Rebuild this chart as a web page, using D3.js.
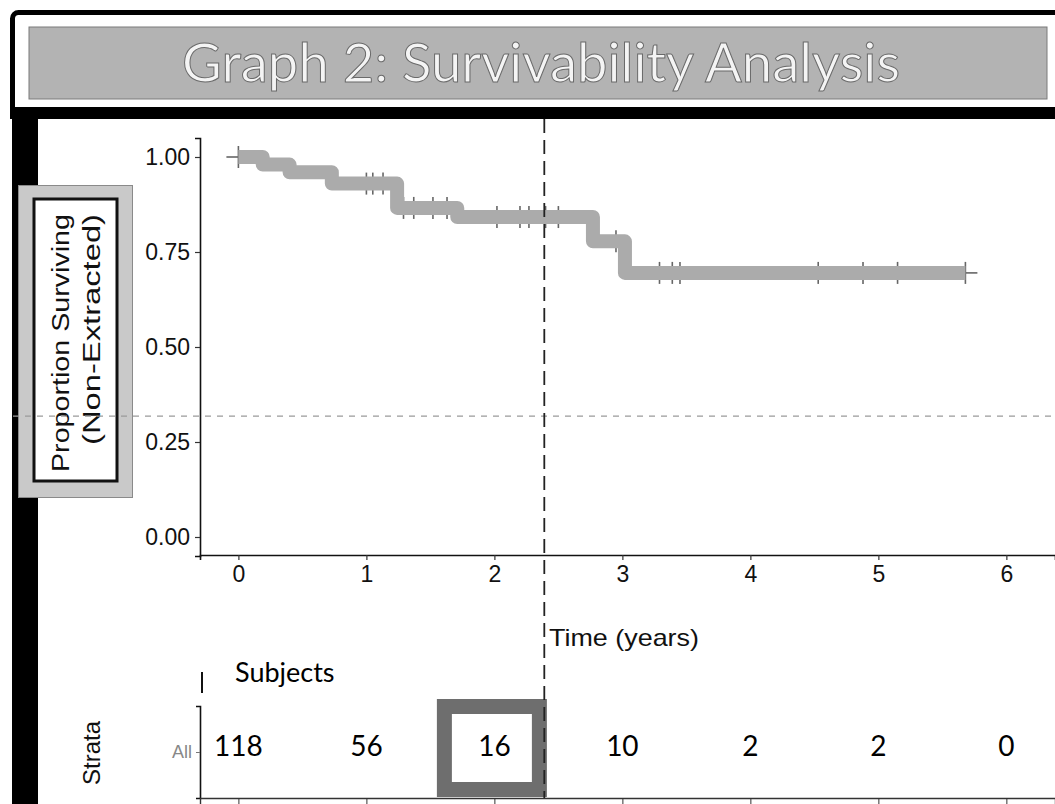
<!DOCTYPE html>
<html>
<head>
<meta charset="utf-8">
<script src="https://cdn.jsdelivr.net/npm/d3@7"></script>
<style>
  body { margin: 0; background: #fff; }
  svg { display: block; }
</style>
</head>
<body>
<div class="chart"></div>
<script>
// survival curve steps (years, proportion surviving)
const stepTimes = [0, 0.19, 0.40, 0.73, 1.24, 1.71, 2.77, 3.02];
const stepSurv = [1.00, 0.98, 0.96, 0.93, 0.866, 0.842, 0.778, 0.695];
const lastTime = 5.68;
const censorTimes = [0, 1.0, 1.05, 1.13, 1.29, 1.37, 1.52, 1.63, 2.02, 2.2, 2.27, 2.4, 2.5, 2.95,
    3.29, 3.39, 3.45, 4.53, 4.88, 5.15, 5.68];
const xTicks = [0, 1, 2, 3, 4, 5, 6];
const yTicks = [0, 0.25, 0.5, 0.75, 1];
// number at risk table
const strata = ["All"];
const riskTimes = [0, 1, 2, 3, 4, 5, 6];
const riskCounts = [118, 56, 16, 10, 2, 2, 0];
const cutoffTime = 2.39;
const refLevel = 0.318;
const highlightTime = 2;

const width = 1055, height = 804;
const axisFont = "'Liberation Sans', Arial, sans-serif";
const calFont = "Lato, 'Open Sans', sans-serif";

const svg = d3.select(".chart").append("svg")
    .attr("width", width)
    .attr("height", height);

// title banner
svg.append("rect")
    .attr("x", 12.5).attr("y", 12.5)
    .attr("width", 1060).attr("height", 100)
    .attr("rx", 6)
    .style("fill", "none").style("stroke", "#000").style("stroke-width", 5);
svg.append("rect")
    .attr("x", 29).attr("y", 27).attr("width", 1018).attr("height", 72)
    .style("fill", "#b3b3b3").style("stroke", "#7a7a7a").style("stroke-width", 1);
svg.append("text")
    .attr("x", 541).attr("y", 82)
    .attr("text-anchor", "middle")
    .attr("textLength", 718).attr("lengthAdjust", "spacingAndGlyphs")
    .style("font-family", calFont).style("font-size", "54px")
    .style("fill", "#f4f4f4").style("stroke", "#6a6a6a").style("stroke-width", 1)
    .text("Graph 2: Survivability Analysis");
svg.append("rect")
    .attr("x", 10).attr("y", 107).attr("width", 1050).attr("height", 12)
    .style("fill", "#000");
// left black bar
svg.append("rect")
    .attr("x", 12).attr("y", 110).attr("width", 26).attr("height", 700)
    .style("fill", "#000");

// scales
const xScale = d3.scaleLinear().domain([-0.3, 6.38]).range([200, 1055]);
const yScale = d3.scaleLinear().domain([-0.05, 1.05]).range([556, 138]);

const xAxis = d3.axisBottom(xScale).tickValues(xTicks).tickFormat(d3.format("d"))
    .tickSizeOuter(0).tickSize(5).tickPadding(6);
const yAxis = d3.axisLeft(yScale).tickValues(yTicks).tickFormat(d3.format(".2f"))
    .tickSizeOuter(0).tickSize(5).tickPadding(5);

const gx = svg.append("g")
    .attr("transform", "translate(0," + 555 + ")")
    .call(xAxis);
const gy = svg.append("g")
    .attr("transform", "translate(" + 200 + ",0)")
    .call(yAxis);
[gx, gy].forEach(g => {
    g.select(".domain").style("stroke", "#111").style("stroke-width", 1.6);
    g.selectAll(".tick line").style("stroke", "#333").style("stroke-width", 1.2);
    g.selectAll(".tick text")
        .style("font-family", axisFont).style("font-size", "23px").style("fill", "#111");
});

// survival data as points
const survAt = t => {
    let s = stepSurv[0];
    stepTimes.forEach((st, i) => { if (st <= t) s = stepSurv[i]; });
    return s;
};
const curve = stepTimes.map((t, i) => ({ t: t, s: stepSurv[i] }));
curve.push({ t: lastTime, s: survAt(lastTime) });

// censor marks (+)
const cens = svg.append("g");
censorTimes.forEach(t => {
    const cx = xScale(t), cy = yScale(survAt(t));
    cens.append("line").attr("x1", cx).attr("x2", cx).attr("y1", cy - 11).attr("y2", cy + 11);
    cens.append("line").attr("x1", cx - 12).attr("x2", cx + 12).attr("y1", cy).attr("y2", cy);
});
cens.selectAll("line").style("stroke", "#666").style("stroke-width", 1.6);

const line = d3.line()
    .x(d => xScale(d.t))
    .y(d => yScale(d.s))
    .curve(d3.curveStepAfter);
svg.append("path")
    .datum(curve)
    .attr("d", line)
    .style("fill", "none")
    .style("stroke", "#ababab")
    .style("stroke-width", 14)
    .style("stroke-linejoin", "round");

// y label box
svg.append("rect")
    .attr("x", 18.5).attr("y", 185.5).attr("width", 114).attr("height", 312)
    .style("fill", "#c9c9c9").style("stroke", "#8a8a8a").style("stroke-width", 1);
svg.append("rect")
    .attr("x", 34).attr("y", 199).attr("width", 83).attr("height", 282)
    .style("fill", "#fff").style("stroke", "#111").style("stroke-width", 3);
svg.append("text")
    .attr("transform", "translate(69,214) rotate(-90)")
    .attr("text-anchor", "end")
    .attr("textLength", 258).attr("lengthAdjust", "spacingAndGlyphs")
    .style("font-family", axisFont).style("font-size", "23px").style("fill", "#111")
    .text("Proportion Surviving");
svg.append("text")
    .attr("transform", "translate(100,214) rotate(-90)")
    .attr("text-anchor", "end")
    .attr("textLength", 231).attr("lengthAdjust", "spacingAndGlyphs")
    .style("font-family", axisFont).style("font-size", "23px").style("fill", "#111")
    .text("(Non-Extracted)");

// reference lines
svg.append("line")
    .attr("x1", 13).attr("x2", width)
    .attr("y1", yScale(refLevel)).attr("y2", yScale(refLevel))
    .style("stroke", "#9a9a9a").style("stroke-width", 1.3).style("stroke-dasharray", "6,6");

svg.append("text")
    .attr("x", 624).attr("y", 646)
    .attr("text-anchor", "middle")
    .attr("textLength", 150).attr("lengthAdjust", "spacingAndGlyphs")
    .style("font-family", axisFont).style("font-size", "24px").style("fill", "#111")
    .text("Time (years)");

// risk table
const yTable = d3.scalePoint().domain(strata).range([706, 798]).padding(0.5);

svg.append("line")
    .attr("x1", 202).attr("x2", 202).attr("y1", 672).attr("y2", 693)
    .style("stroke", "#111").style("stroke-width", 2);
svg.append("text")
    .attr("x", 235).attr("y", 682)
    .style("font-family", calFont).style("font-size", "27px").style("fill", "#000")
    .text("Subjects");

svg.append("text")
    .attr("transform", "translate(100,753) rotate(-90)")
    .attr("text-anchor", "middle")
    .attr("textLength", 64).attr("lengthAdjust", "spacingAndGlyphs")
    .style("font-family", axisFont).style("font-size", "23px").style("fill", "#111")
    .text("Strata");

// highlight box
svg.append("rect")
    .attr("x", xScale(highlightTime) - 50).attr("y", 706.5)
    .attr("width", 95).attr("height", 83)
    .style("fill", "#fff").style("stroke", "#6e6e6e").style("stroke-width", 15);

const gtY = svg.append("g")
    .attr("transform", "translate(200,0)")
    .call(d3.axisLeft(yTable).tickSizeOuter(0).tickSize(4).tickPadding(4));
gtY.select(".domain").style("stroke", "#111").style("stroke-width", 1.6);
gtY.selectAll(".tick line").style("stroke", "#777");
gtY.selectAll(".tick text")
    .style("font-family", axisFont).style("font-size", "18px").style("fill", "#888");

const gtX = svg.append("g")
    .attr("transform", "translate(0,798)")
    .call(d3.axisBottom(xScale).tickValues(xTicks).tickFormat("").tickSizeOuter(0).tickSize(6));
gtX.select(".domain").style("stroke", "#333").style("stroke-width", 1.4);
gtX.selectAll(".tick line").style("stroke", "#333");

svg.selectAll(".risk")
    .data(riskTimes)
    .enter()
    .append("text")
    .attr("class", "risk")
    .attr("x", d => xScale(d))
    .attr("y", yTable("All") + 4)
    .attr("text-anchor", "middle")
    .style("font-family", calFont).style("font-size", "28px").style("fill", "#000")
    .text((d, i) => riskCounts[i]);

// dashed cutoff line
svg.append("line")
    .attr("x1", xScale(cutoffTime)).attr("x2", xScale(cutoffTime))
    .attr("y1", 119).attr("y2", 798)
    .style("stroke", "#222").style("stroke-width", 1.8).style("stroke-dasharray", "14,7");
</script>
</body>
</html>
